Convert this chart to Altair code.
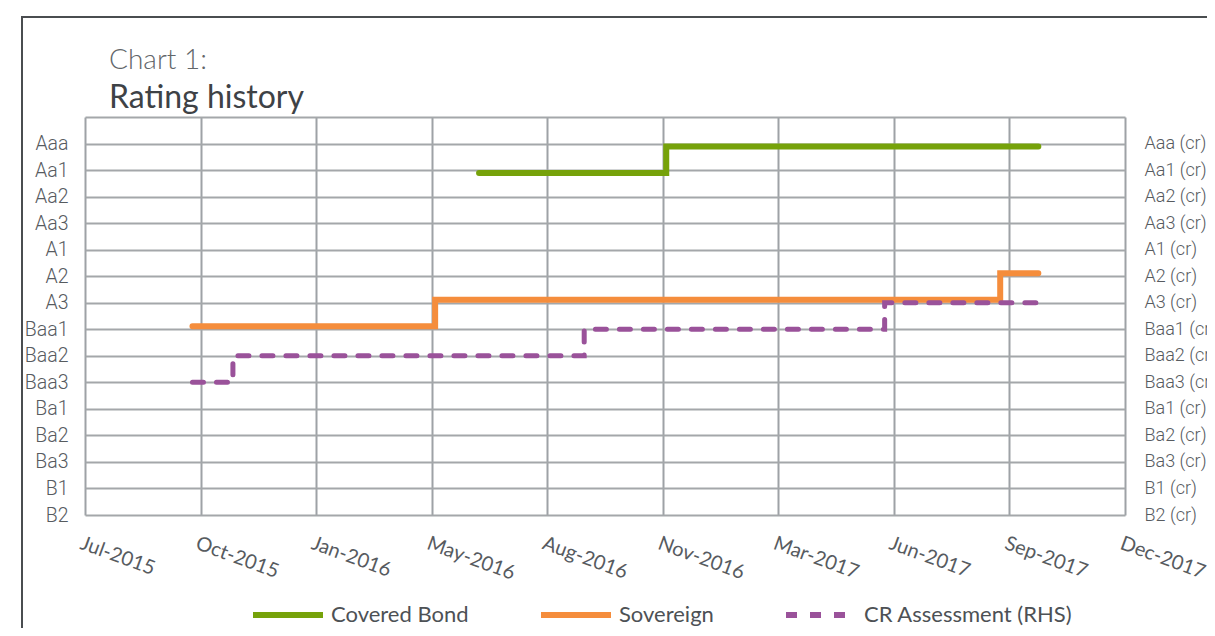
import altair as alt
import pandas as pd

# ---- data -------------------------------------------------------------
ratings = ["Aaa", "Aa1", "Aa2", "Aa3", "A1", "A2", "A3", "Baa1", "Baa2",
           "Baa3", "Ba1", "Ba2", "Ba3", "B1", "B2"]
tick_dates = ["2015-07-15", "2015-10-23", "2016-01-31", "2016-05-10",
              "2016-08-18", "2016-11-26", "2017-03-06", "2017-06-14",
              "2017-09-22", "2017-12-31"]

series_names = ["Covered Bond", "Sovereign", "CR Assessment (RHS)"]
series_colors = ["#76A20A", "#F58D3C", "#9A529A"]

covered_dates = ["2016-06-20", "2016-11-29", "2017-10-17"]
covered_ratings = ["Aa1", "Aaa", "Aaa"]

sovereign_dates = ["2015-10-16", "2016-05-13", "2017-09-14", "2017-10-17"]
sovereign_ratings = ["Baa1", "A3", "A2", "A2"]

cr_dates = ["2015-10-16", "2015-11-20", "2016-09-19", "2017-06-06", "2017-10-17"]
cr_ratings = ["Baa3", "Baa2", "Baa1", "A3", "A3"]

title_line1 = "Chart 1:"
title_line2 = "Rating history"

# ---- build table ------------------------------------------------------
n = len(ratings)
level_of = {r: n - 1 - i for i, r in enumerate(ratings)}  # B2 = 0 ... Aaa = 14

rows = []
for name, dates, rts in [(series_names[0], covered_dates, covered_ratings),
                         (series_names[1], sovereign_dates, sovereign_ratings),
                         (series_names[2], cr_dates, cr_ratings)]:
    for d, r in zip(dates, rts):
        rows.append({"series": name, "date": d, "rating": r, "level": level_of[r]})
df = pd.DataFrame(rows)


def dt(s):
    y, m, d = (int(v) for v in s.split("-"))
    return alt.DateTime(year=y, month=m, date=d, utc=True)


labels_bottom_up = list(reversed(ratings))
left_expr = "[" + ",".join("'%s'" % r for r in labels_bottom_up) + ",''][datum.value]"
right_expr = "[" + ",".join("'%s (cr)'" % r for r in labels_bottom_up) + ",''][datum.value]"

LABEL_FONT = "Roboto"
TEXT_FONT = "Lato"
LABEL_COLOR = "#575b5f"

x_enc = alt.X(
    "date:T",
    scale=alt.Scale(type="utc", domain=[dt(tick_dates[0]), dt(tick_dates[-1])]),
    axis=alt.Axis(
        values=[dt(d) for d in tick_dates], format="%b-%Y", title=None,
        grid=True, gridColor="#9EA2A6", gridWidth=2, domain=False, ticks=False,
        labelAngle=20, labelAlign="left", labelBaseline="top", labelPadding=18,
        labelOffset=-1, labelFlush=False, labelOverlap=False, labelBound=False,
        labelFont=TEXT_FONT, labelFontSize=20, labelColor=LABEL_COLOR,
    ),
)

color_enc = alt.Color("series:N", scale=alt.Scale(domain=series_names, range=series_colors),
                      legend=alt.Legend(title=None))
dash_enc = alt.StrokeDash("series:N",
                          scale=alt.Scale(domain=series_names, range=[[1, 0], [1, 0], [11, 13]]),
                          legend=alt.Legend(title=None))

y_left = alt.Y(
    "level:Q", scale=alt.Scale(domain=[0, n], nice=False, zero=False),
    axis=alt.Axis(
        orient="left", values=list(range(n + 1)), labelExpr=left_expr, title=None,
        grid=True, gridColor="#A4A7AA", gridWidth=1.8, domain=False, ticks=False,
        labelPadding=17, labelFont=LABEL_FONT, labelFontSize=19.5, labelFontWeight=300,
        labelColor=LABEL_COLOR,
        labelFlush=False, labelOverlap=False, labelBound=False,
    ),
)
y_right = alt.Y(
    "level:Q", scale=alt.Scale(domain=[0, n], nice=False, zero=False),
    axis=alt.Axis(
        orient="right", values=list(range(n)), labelExpr=right_expr, title=None,
        grid=False, domain=False, ticks=False, labelAlign="left",
        labelPadding=19, labelFont=LABEL_FONT, labelFontSize=18, labelFontWeight=300,
        labelColor=LABEL_COLOR,
        labelFlush=False, labelOverlap=False, labelBound=False,
    ),
)

base = alt.Chart(df)
one = pd.DataFrame({"k": [0]})

frame = alt.Chart(one).mark_rect(
    fill="transparent", stroke="#4a4d50", strokeWidth=2
).encode(x=alt.value(-63), x2=alt.value(1400), y=alt.value(-100), y2=alt.value(800))

title1 = alt.Chart(one).mark_text(
    align="left", baseline="alphabetic", font=TEXT_FONT, fontSize=28, fontWeight=300,
    color="#62666a"
).encode(x=alt.value(24), y=alt.value(-48), text=alt.value(title_line1))

title2 = alt.Chart(one).mark_text(
    align="left", baseline="alphabetic", font=TEXT_FONT, fontSize=32, fontWeight=400,
    color="#3e4246"
).encode(x=alt.value(24), y=alt.value(-9), text=alt.value(title_line2))

covered = base.transform_filter(alt.datum.series == series_names[0]).mark_line(
    interpolate="step-after", strokeWidth=6, strokeCap="round"
).encode(x=x_enc, y=y_left, color=color_enc, strokeDash=dash_enc, yOffset=alt.value(3))

sovereign = base.transform_filter(alt.datum.series == series_names[1]).mark_line(
    interpolate="step-after", strokeWidth=6, strokeCap="round"
).encode(x=x_enc, y=y_left, color=color_enc, strokeDash=dash_enc, yOffset=alt.value(-3))

cr = base.transform_filter(alt.datum.series == series_names[2]).mark_line(
    interpolate="step-after", strokeWidth=5, strokeCap="round"
).encode(x=x_enc, y=y_right, color=color_enc, strokeDash=dash_enc)

left_layer = alt.layer(covered, sovereign)

chart = alt.layer(frame, title1, title2, left_layer, cr).resolve_scale(y="independent").properties(
    width=1040, height=398,
    autosize=alt.AutoSizeParams(type="none"),
    padding={"left": 77, "top": 109, "right": 82, "bottom": 113},
).configure_view(stroke=None).configure_legend(
    orient="none", legendX=165, legendY=460, direction="horizontal",
    symbolType="stroke", symbolSize=4900, symbolStrokeWidth=6,
    labelFont=TEXT_FONT, labelFontSize=22, labelColor="#4d5155", labelLimit=0,
    labelOffset=5, columnPadding=60, padding=0, symbolOffset=0,
)

chart.save("out.html", embed_options={"renderer": "svg", "actions": False})
